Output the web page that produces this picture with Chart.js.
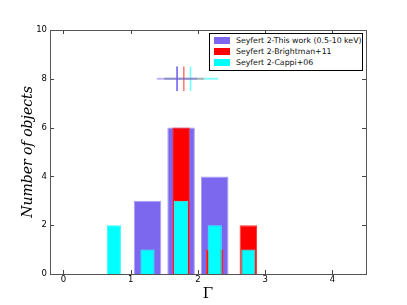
<!DOCTYPE html>
<html>
<head>
<meta charset="utf-8">
<script src="https://cdn.jsdelivr.net/npm/chart.js@4"></script>
<style>
  html, body { margin: 0; padding: 0; background: #fff; }
  #wrap { position: relative; width: 407px; height: 305px; }
  #legend {
    position: absolute; left: 209px; top: 33px; width: 152px; height: 36px;
    border: 1px solid #000; background: #fff; font: 7.8px 'DejaVu Sans', sans-serif;
  }
  .row { position: absolute; left: 0; height: 11px; white-space: nowrap; color: #111; }
  .sw { position: absolute; left: 4px; top: 2px; width: 16px; height: 7px; }
  .lbl { position: absolute; left: 26px; top: 0; line-height: 11px; }
</style>
</head>
<body>
<div id="wrap">
  <canvas id="c" width="407" height="305"></canvas>
  <div id="legend"></div>
</div>
<script>
const xTicks = [0, 1, 2, 3, 4];
const yTicks = [0, 2, 4, 6, 8, 10];

const seriesLabels = ['Seyfert 2-This work (0.5-10 keV)', 'Seyfert 2-Brightman+11', 'Seyfert 2-Cappi+06'];
const seriesColors = ['#7b68ee', '#ff0000', '#00ffff'];

/* histogram bins (centre of bin) and counts */
const thisWorkGamma  = [1.25, 1.75, 2.25];
const thisWorkCount  = [3, 6, 4];
const brightmanGamma = [1.75, 2.25, 2.75];
const brightmanCount = [6, 1, 2];
const cappiGamma     = [0.75, 1.25, 1.75, 2.25, 2.75];
const cappiCount     = [2, 1, 3, 2, 1];

/* mean Γ and spread of each sample, drawn at y = 8 */
const meanGamma = [1.69, 1.79, 1.89];
const gammaLow  = [1.39, 1.50, 1.50];
const gammaHigh = [1.99, 2.09, 2.30];
const meanRow   = 8;
const meanHalf  = 0.5;

const pts = (xs, ys) => xs.map((x, i) => ({ x, y: ys[i] }));

const hLine = ['rgba(123,104,238,0.5)', 'rgba(255,0,0,0.3)', 'rgba(0,255,255,0.5)'];
const vLine = ['rgba(90,70,240,0.9)', 'rgba(255,0,0,0.55)', 'rgba(0,255,255,0.6)'];

const errSets = [];
meanGamma.forEach((m, i) => {
  errSets.push({
    type: 'line', order: 0, data: [{ x: gammaLow[i], y: meanRow }, { x: gammaHigh[i], y: meanRow }],
    borderColor: hLine[i], borderWidth: 2, pointRadius: 0, fill: false,
  });
  errSets.push({
    type: 'line', order: 0, data: [{ x: m, y: meanRow - meanHalf }, { x: m, y: meanRow + meanHalf }],
    borderColor: vLine[i], borderWidth: 1.5, pointRadius: 0, fill: false,
  });
});

/* frame box + matplotlib-style inward ticks */
const frame = {
  id: 'frame',
  afterDatasetsDraw(chart) {
    const { ctx, chartArea: a, scales } = chart;
    ctx.save();
    ctx.strokeStyle = '#444';
    ctx.lineWidth = 1;
    ctx.beginPath();
    xTicks.forEach(v => {
      const px = Math.round(scales.x.getPixelForValue(v)) + 0.5;
      ctx.moveTo(px, a.bottom); ctx.lineTo(px, a.bottom - 4);
      ctx.moveTo(px, a.top);    ctx.lineTo(px, a.top + 4);
    });
    yTicks.forEach(v => {
      const py = Math.round(scales.y.getPixelForValue(v)) + 0.5;
      ctx.moveTo(a.left, py);  ctx.lineTo(a.left + 4, py);
      ctx.moveTo(a.right, py); ctx.lineTo(a.right - 4, py);
    });
    ctx.stroke();
    ctx.strokeStyle = '#555';
    ctx.strokeRect(Math.round(a.left) + 0.5, Math.round(a.top) + 0.5,
                   Math.round(a.right - a.left), Math.round(a.bottom - a.top));
    ctx.restore();
  },
};

Chart.defaults.font.family = "'DejaVu Sans', sans-serif";
Chart.defaults.color = '#000';

const barSet = (i, xs, ys, pct, edge, order) => ({
  label: seriesLabels[i], order, grouped: false,
  barPercentage: pct, categoryPercentage: 1,
  data: pts(xs, ys),
  backgroundColor: seriesColors[i], borderColor: edge, borderWidth: 1, borderSkipped: 'bottom',
});

new Chart(document.getElementById('c'), {
  type: 'bar',
  data: {
    datasets: [
      barSet(0, thisWorkGamma, thisWorkCount, 0.82, '#a99ef4', 5),
      barSet(1, brightmanGamma, brightmanCount, 0.52, '#ff3030', 4),
      barSet(2, cappiGamma, cappiCount, 0.42, '#30ffff', 3),
      ...errSets,
    ],
  },
  options: {
    responsive: false,
    animation: false,
    layout: { padding: { left: 0, top: 30, right: 41, bottom: 0 } },
    plugins: { legend: { display: false }, tooltip: { enabled: false } },
    scales: {
      x: {
        type: 'linear', offset: false, min: -0.2, max: 4.5,
        afterBuildTicks: s => { s.ticks = xTicks.map(v => ({ value: v })); },
        afterFit: s => { s.height = 31; },
        grid: { display: false, drawTicks: false, offset: false },
        border: { display: false },
        ticks: { padding: 1, font: { size: 8.5 }, maxRotation: 0 },
        title: {
          display: true, text: 'Γ', padding: { top: 0, bottom: 2 },
          font: { family: "'DejaVu Serif', serif", size: 15 },
        },
      },
      y: {
        min: 0, max: 10,
        afterBuildTicks: s => { s.ticks = yTicks.map(v => ({ value: v })); },
        afterFit: s => { s.width = 50; },
        grid: { display: false, drawTicks: false },
        border: { display: false },
        ticks: { padding: 3, font: { size: 8.5 } },
        title: {
          display: true, text: 'Number of objects', padding: { top: 20, bottom: 0 },
          font: { family: "'DejaVu Serif', serif", size: 14, style: 'italic' },
        },
      },
    },
  },
  plugins: [frame],
});

/* legend inside the axes, upper right */
const lg = document.getElementById('legend');
seriesLabels.forEach((t, i) => {
  const r = document.createElement('div');
  r.className = 'row';
  r.style.top = (1 + i * 11) + 'px';
  r.innerHTML = `<span class="sw" style="background:${seriesColors[i]}"></span><span class="lbl">${t}</span>`;
  lg.appendChild(r);
});
</script>
</body>
</html>
